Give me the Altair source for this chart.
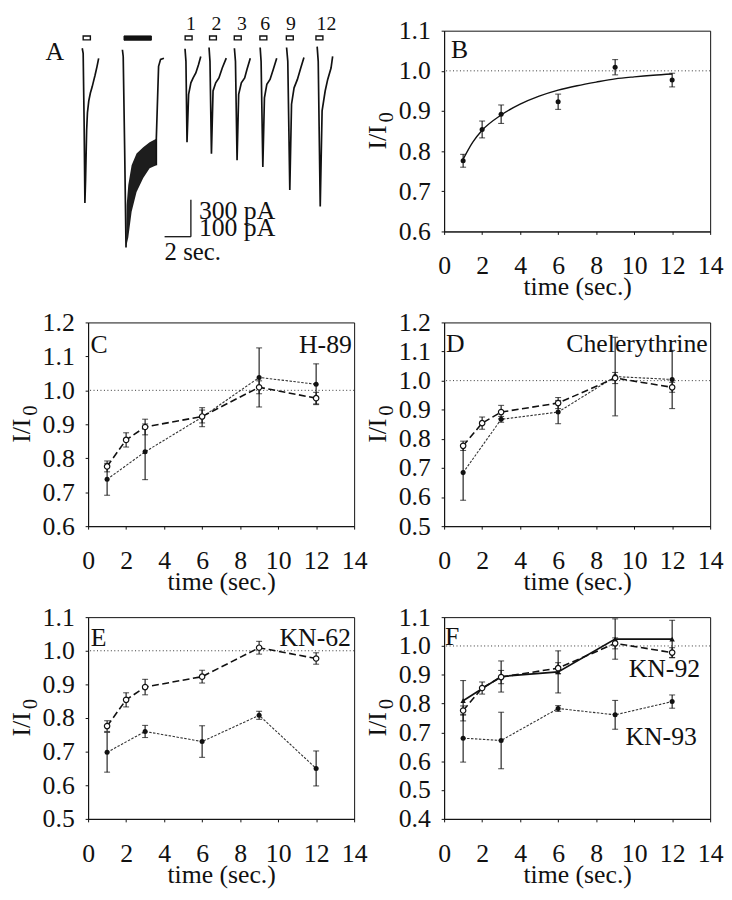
import altair as alt
import pandas as pd

FONT = "Liberation Serif"
BLACK = "#111111"
W = 269
FS = 26

# ---------------- Panel A : current traces (time in s, current in pA) ----------------
ctrl_trace_t = [-0.44, -0.37, -0.30, -0.24, -0.19, -0.11, -0.05, 0.05, 0.17, 0.30, 0.41, 0.52, 0.67, 0.79]
ctrl_trace_i = [6, -36, -587, -1260, -1073, -668, -522, -425, -360, -312, -263, -215, -142, -77]

long_fall_t = [2.57, 2.63, 2.74, 2.84]
long_fall_i = [-6, -61, -830, -1626]
long_band_t = [2.84, 2.89, 3.01, 3.26, 3.63, 4.13, 4.61, 5.11]
long_band_hi = [-1626, -1276, -1114, -952, -855, -804, -763, -735]
long_band_lo = [-1626, -1600, -1543, -1332, -1170, -1057, -976, -952]
long_tail_t = [5.11, 5.11, 5.28, 5.43, 5.68]
long_tail_i = [-952, -735, -142, -85, -75]

tr1_t = [7.26, 7.33, 7.41, 7.53, 7.70, 7.87, 8.07, 8.27, 8.44]
tr1_i = [2, -101, -763, -371, -277, -237, -196, -128, -61]
tr2_t = [9.06, 9.13, 9.24, 9.36, 9.56, 9.80, 10.05, 10.35]
tr2_i = [12, -101, -857, -344, -277, -237, -156, -75]
tr3_t = [10.96, 11.04, 11.16, 11.28, 11.48, 11.73, 11.90, 12.15]
tr3_i = [6, -101, -911, -371, -277, -237, -168, -75]
tr6_t = [12.89, 12.96, 13.09, 13.21, 13.39, 13.63, 13.87, 14.13]
tr6_i = [12, -101, -966, -399, -290, -249, -168, -75]
tr9_t = [14.87, 14.96, 15.11, 15.24, 15.43, 15.68, 15.93, 16.17]
tr9_i = [12, -101, -1154, -452, -318, -249, -156, -69]
tr12_t = [17.16, 17.24, 17.39, 17.53, 17.76, 17.95, 18.20, 18.32]
tr12_i = [20, -101, -1290, -506, -344, -249, -156, -61]

pulse_t0 = [-0.37, 7.27, 9.10, 10.95, 12.87, 14.85, 17.07]
pulse_t1 = [0.17, 7.79, 9.61, 11.47, 13.39, 15.37, 17.59]
pulse_lo = [75] * 7
pulse_hi = [107] * 7
long_pulse_t0 = [2.69]
long_pulse_t1 = [4.74]
long_pulse_lo = [72]
long_pulse_hi = [107]

delay_labels = ["1", "2", "3", "6", "9", "12"]
delay_label_t = [7.70, 9.61, 11.53, 13.26, 15.19, 17.85]
delay_label_i = [158] * 6

bar_v_t = [7.70]
bar_v_i0 = [-1235]
bar_v_i1 = [-1537]
bar_h_t0 = [5.73]
bar_h_t1 = [7.70]
bar_h_i = [-1537]

a_text = ["A", "300 pA", "100 pA", "2 sec."]
a_text_t = [-3.19, 8.30, 8.30, 5.73]
a_text_i = [-87, -1389, -1535, -1729]
a_text_size = [26, 26, 26, 25]

# ---------------- Panels B-F : I/I0 vs time ----------------
t_ctrl = [1, 2, 3, 6, 9, 12]
ctrl = [0.776, 0.854, 0.892, 0.923, 1.009, 0.977]
ctrl_err = [0.016, 0.021, 0.023, 0.019, 0.019, 0.017]

fit_t = [1, 1.5, 2, 3, 4, 5, 6, 7, 8, 9, 10, 11, 12]
fit_v = [0.78, 0.822, 0.852, 0.890, 0.917, 0.937, 0.952, 0.963, 0.972, 0.980, 0.985, 0.989, 0.992]

t_drug = [1, 3, 6, 9, 12]
h89 = [0.738, 0.819, 0.921, 1.038, 1.018]
h89_err = [0.047, 0.082, 0.028, 0.087, 0.060]
chel = [0.684, 0.867, 0.892, 1.014, 1.004]
chel_err = [0.095, 0.010, 0.040, 0.135, 0.100]
kn62 = [0.698, 0.760, 0.730, 0.808, 0.650]
kn62_err = [0.059, 0.018, 0.047, 0.012, 0.052]
kn92 = [0.810, 0.894, 0.910, 1.024, 1.024]
kn92_err = [0.070, 0.054, 0.073, 0.070, 0.065]
kn93 = [0.680, 0.672, 0.783, 0.761, 0.807]
kn93_err = [0.083, 0.098, 0.010, 0.050, 0.023]

x_ticks = [0, 2, 4, 6, 8, 10, 12, 14]
yticks_B = [0.6, 0.7, 0.8, 0.9, 1.0, 1.1]
yticks_C = [0.6, 0.7, 0.8, 0.9, 1.0, 1.1, 1.2]
yticks_D = [0.5, 0.6, 0.7, 0.8, 0.9, 1.0, 1.1, 1.2]
yticks_E = [0.5, 0.6, 0.7, 0.8, 0.9, 1.0, 1.1]
yticks_F = [0.4, 0.5, 0.6, 0.7, 0.8, 0.9, 1.0, 1.1]


# ---------------- Panel A chart ----------------
H1, H2, H3 = 203, 206, 204
xa = alt.Scale(domain=[0, 19.93], nice=False, zero=False)
ya = alt.Scale(domain=[-1494, 150], nice=False, zero=False)

rows = []
for name, ts, cs in [("ctrl", ctrl_trace_t, ctrl_trace_i), ("fall", long_fall_t, long_fall_i),
                     ("tail", long_tail_t, long_tail_i), ("t1", tr1_t, tr1_i), ("t2", tr2_t, tr2_i),
                     ("t3", tr3_t, tr3_i), ("t6", tr6_t, tr6_i), ("t9", tr9_t, tr9_i),
                     ("t12", tr12_t, tr12_i)]:
    for k, (tt, cc) in enumerate(zip(ts, cs)):
        rows.append({"trace": name, "k": k, "t": tt, "i": cc})
traces_df = pd.DataFrame(rows)
band_df = pd.DataFrame({"t": long_band_t, "lo": long_band_lo, "hi": long_band_hi})
pulse_df = pd.DataFrame({"t0": pulse_t0, "t1": pulse_t1, "i0": pulse_lo, "i1": pulse_hi})
lpulse_df = pd.DataFrame({"t0": long_pulse_t0, "t1": long_pulse_t1, "i0": long_pulse_lo, "i1": long_pulse_hi})
delay_df = pd.DataFrame({"s": delay_labels, "t": delay_label_t, "i": delay_label_i})
barv_df = pd.DataFrame({"t": bar_v_t, "i0": bar_v_i0, "i1": bar_v_i1})
barh_df = pd.DataFrame({"t0": bar_h_t0, "t1": bar_h_t1, "i": bar_h_i})


def AX(f):
    return alt.X(f, scale=xa, axis=None)


def AY(f):
    return alt.Y(f, scale=ya, axis=None)


a_layers = [
    alt.Chart(traces_df).mark_line(color=BLACK, strokeWidth=1.7).encode(
        x=AX("t:Q"), y=AY("i:Q"), detail="trace:N", order="k:Q"),
    alt.Chart(band_df).mark_area(color=BLACK, opacity=0.95).encode(
        x=AX("t:Q"), y=AY("lo:Q"), y2="hi:Q"),
    alt.Chart(pulse_df).mark_rect(fill="white", stroke=BLACK, strokeWidth=1.4).encode(
        x=AX("t0:Q"), x2="t1:Q", y=AY("i0:Q"), y2="i1:Q"),
    alt.Chart(lpulse_df).mark_rect(fill=BLACK, stroke=BLACK).encode(
        x=AX("t0:Q"), x2="t1:Q", y=AY("i0:Q"), y2="i1:Q"),
    alt.Chart(delay_df).mark_text(font=FONT, fontSize=20, align="center", baseline="alphabetic",
                                  color=BLACK).encode(x=AX("t:Q"), y=AY("i:Q"), text="s:N"),
    alt.Chart(barv_df).mark_rule(color=BLACK, strokeWidth=1.3).encode(
        x=AX("t:Q"), y=AY("i0:Q"), y2="i1:Q"),
    alt.Chart(barh_df).mark_rule(color=BLACK, strokeWidth=1.3).encode(
        x=AX("t0:Q"), x2="t1:Q", y=AY("i:Q")),
]
for s, tt, ii, fs in zip(a_text, a_text_t, a_text_i, a_text_size):
    a_layers.append(
        alt.Chart(pd.DataFrame({"s": [s], "t": [tt], "i": [ii]})).mark_text(
            font=FONT, fontSize=fs, align="left", baseline="alphabetic", color=BLACK
        ).encode(x=AX("t:Q"), y=AY("i:Q"), text="s:N"))

panel_A = alt.layer(*a_layers).properties(
    width=W, height=H1, view=alt.ViewBackground(stroke="transparent"))


# ---------------- data panels ----------------
def data_panel(h, ydom, yticks, series, letter, letter_xy, labels, fit=None, title_dx=-59):
    xs = alt.Scale(domain=[0, 14], nice=False, zero=False)
    ys = alt.Scale(domain=ydom, nice=False, zero=False)
    xax = alt.Axis(values=x_ticks, format="d", title="time (sec.)")
    yax = alt.Axis(values=yticks, format=".1f", title="")

    def X(f):
        return alt.X(f, scale=xs, axis=xax)

    def Y(f):
        return alt.Y(f, scale=ys, axis=yax)

    layers = [
        alt.Chart(pd.DataFrame({"v": [1.0]})).mark_rule(
            color="#333333", strokeWidth=1, strokeDash=[1, 2.5]).encode(y=Y("v:Q"))
    ]
    if fit is not None:
        layers.append(alt.Chart(pd.DataFrame({"t": fit[0], "v": fit[1]})).mark_line(
            color=BLACK, strokeWidth=1.4, interpolate="monotone").encode(x=X("t:Q"), y=Y("v:Q")))

    for t, v, e, line, marker in series:
        df = pd.DataFrame({"t": t, "v": v,
                           "lo": [a - b for a, b in zip(v, e)],
                           "hi": [a + b for a, b in zip(v, e)]})
        base = alt.Chart(df)
        if line == "dash":
            layers.append(base.mark_line(color=BLACK, strokeWidth=1.6, strokeDash=[7, 3.5]).encode(
                x=X("t:Q"), y=Y("v:Q")))
        elif line == "dot":
            layers.append(base.mark_line(color="#333333", strokeWidth=1.1, strokeDash=[2.5, 1.5]).encode(
                x=X("t:Q"), y=Y("v:Q")))
        elif line == "solid":
            layers.append(base.mark_line(color=BLACK, strokeWidth=1.7).encode(
                x=X("t:Q"), y=Y("v:Q")))
        layers.append(base.mark_rule(color=BLACK, strokeWidth=1.1).encode(
            x=X("t:Q"), y=Y("lo:Q"), y2="hi:Q"))
        for f in ("lo:Q", "hi:Q"):
            layers.append(base.mark_tick(orient="horizontal", size=6, thickness=1.1, color=BLACK).encode(
                x=X("t:Q"), y=Y(f)))
        if marker == "open":
            layers.append(base.mark_point(shape="circle", filled=True, fill="white", stroke=BLACK,
                                          strokeWidth=1.2, size=30, opacity=1).encode(
                x=X("t:Q"), y=Y("v:Q")))
        elif marker == "tri":
            layers.append(base.mark_point(shape="triangle-up", filled=True, color=BLACK, size=30,
                                          opacity=1).encode(x=X("t:Q"), y=Y("v:Q")))
        else:
            layers.append(base.mark_point(shape="circle", filled=True, color=BLACK, size=26,
                                          opacity=1).encode(x=X("t:Q"), y=Y("v:Q")))

    layers.append(alt.Chart(pd.DataFrame({"s": [letter], "t": [letter_xy[0]], "v": [letter_xy[1]]}))
                  .mark_text(font=FONT, fontSize=FS, align="left", baseline="alphabetic", color=BLACK)
                  .encode(x=X("t:Q"), y=Y("v:Q"), text="s:N"))
    for s, tx, vy in labels:
        layers.append(alt.Chart(pd.DataFrame({"s": [s], "t": [tx], "v": [vy]}))
                      .mark_text(font=FONT, fontSize=FS, align="right", baseline="alphabetic",
                                 color=BLACK)
                      .encode(x=X("t:Q"), y=Y("v:Q"), text="s:N"))
    # y-axis title  I/I0 (with subscript 0)
    layers.append(alt.Chart(pd.DataFrame({"s": ["I/I"]})).mark_text(
        font=FONT, fontSize=FS, angle=270, align="center", baseline="alphabetic", color=BLACK
    ).encode(text="s:N", x=alt.value(title_dx), y=alt.value(h / 2 + 6.5)))
    layers.append(alt.Chart(pd.DataFrame({"s": ["0"]})).mark_text(
        font=FONT, fontSize=21, angle=270, align="center", baseline="alphabetic", color=BLACK
    ).encode(text="s:N", x=alt.value(title_dx + 7), y=alt.value(h / 2 - 14)))
    return alt.layer(*layers).properties(width=W, height=h)


panel_B = data_panel(H1, [0.6, 1.1], yticks_B,
                     [(t_ctrl, ctrl, ctrl_err, None, "filled")],
                     "B", (0.36, 1.031), [], fit=(fit_t, fit_v))
panel_C = data_panel(H2, [0.6, 1.2], yticks_C,
                     [(t_drug, h89, h89_err, "dot", "filled"),
                      (t_ctrl, ctrl, ctrl_err, "dash", "open")],
                     "C", (0.12, 1.11), [("H-89", 13.88, 1.11)])
panel_D = data_panel(H2, [0.5, 1.2], yticks_D,
                     [(t_drug, chel, chel_err, "dot", "filled"),
                      (t_ctrl, ctrl, ctrl_err, "dash", "open")],
                     "D", (0.1, 1.097), [("Chelerythrine", 13.87, 1.097)])
panel_E = data_panel(H3, [0.5, 1.1], yticks_E,
                     [(t_drug, kn62, kn62_err, "dot", "filled"),
                      (t_ctrl, ctrl, ctrl_err, "dash", "open")],
                     "E", (0.14, 1.015), [("KN-62", 13.83, 1.015)])
panel_F = data_panel(H3, [0.4, 1.1], yticks_F,
                     [(t_drug, kn93, kn93_err, "dot", "filled"),
                      (t_drug, kn92, kn92_err, "solid", "tri"),
                      (t_ctrl, ctrl, ctrl_err, "dash", "open")],
                     "F", (0.04, 1.003), [("KN-92", 13.47, 0.894), ("KN-93", 13.3, 0.655)])

chart = alt.concat(
    panel_A, panel_B, panel_C, panel_D, panel_E, panel_F,
    columns=2, spacing={"row": 92, "column": 91}, bounds="flush", align="each"
).properties(
    padding={"left": 0, "top": 0, "right": 0, "bottom": 0}
).configure(
    font=FONT
).configure_view(
    stroke=BLACK, strokeWidth=1
).configure_axis(
    labelFont=FONT, labelFontSize=FS, titleFont=FONT, titleFontSize=FS, titleFontWeight="normal",
    labelColor=BLACK, titleColor=BLACK, domainColor=BLACK, tickColor=BLACK,
    grid=False, tickSize=3, labelFlush=False, labelOverlap=False
).configure_axisX(
    labelPadding=19, titleY=64, titleBaseline="alphabetic"
).configure_axisY(
    labelPadding=11
)

chart.save("out.html", embed_options={"renderer": "svg", "actions": False})
